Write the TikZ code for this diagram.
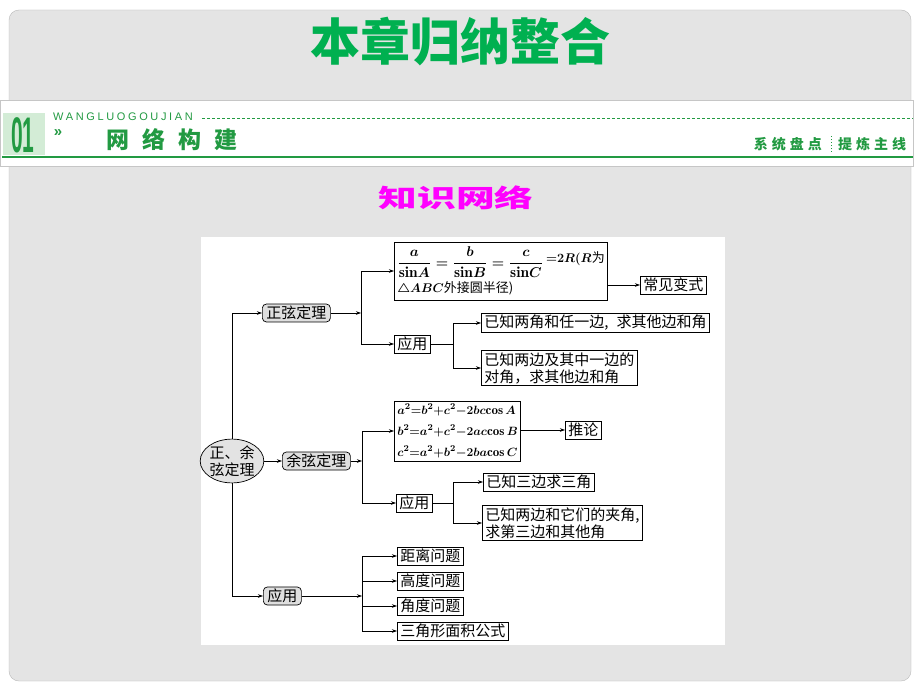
\documentclass[tikz,border=0pt]{standalone}
\usepackage{amsmath}
\usepackage{graphicx}
\usepackage{fontspec}
\usetikzlibrary{arrows.meta,shapes.geometric}
\newfontfamily\cjk{Noto Sans CJK SC}
\newfontfamily\hdlatin[LetterSpace=24]{Liberation Sans}
\newfontfamily\numfont{Liberation Sans}
\definecolor{titlegreen}{RGB}{0,176,80}
\definecolor{hdgreen}{RGB}{34,154,66}
\definecolor{numbg}{RGB}{211,236,214}
\definecolor{slidegray}{RGB}{228,228,228}
\definecolor{knowpink}{RGB}{255,0,255}
\newcommand\bmath[1]{{\boldmath$#1$}}
\tikzset{
  kbox/.style={draw, line width=0.7pt, fill=white, inner xsep=3pt, inner ysep=2pt,
    anchor=west, align=left, font=\cjk\fontsize{15}{17}\selectfont},
  gbox/.style={kbox, fill=gray!25, rounded corners=4pt, inner xsep=4pt},
  link/.style={line width=0.6pt, -{Stealth[length=5pt,width=3.5pt]}},
  plain/.style={line width=0.6pt}
}

\begin{document}
\begin{tikzpicture}[x=1pt,y=-1pt]
        \useasboundingbox (0,0) rectangle (920,690);
        % The slide
        \fill[white] (0,0) rectangle (920,690);
        \draw[gray!55, fill=slidegray, rounded corners=10pt] (9,10) rectangle (911,681);
        \node[font=\cjk\bfseries\fontsize{50}{50}\selectfont, text=titlegreen] (title) at (460,42) {本章归纳整合};

        % The header band
        \draw[gray!45, fill=white] (0,100) rectangle (913,166);
        \fill[numbg] (3,113) rectangle (45,155);
        \node[font=\numfont\bfseries\fontsize{50}{50}\selectfont, text=hdgreen, inner sep=0pt] (num) at (23,135) {\scalebox{0.42}[1]{01}};
        \node[font=\hdlatin\fontsize{11}{11}\selectfont, text=hdgreen, anchor=west, inner sep=0pt] (pinyin) at (53,117) {WANGLUOGOUJIAN};
        \draw[hdgreen, line width=0.9pt, dash pattern=on 2.5pt off 2.5pt] (202,118) -- (913,118);
        \node[font=\numfont\bfseries\fontsize{15}{15}\selectfont, text=hdgreen, inner sep=0pt] (guil) at (58,133) {»};
        \node[font=\cjk\bfseries\fontsize{23}{23}\selectfont, text=hdgreen, inner sep=0pt] (wljg) at (172,140) {网\hspace{13pt}络\hspace{13pt}构\hspace{13pt}建};
        \node[font=\cjk\bfseries\fontsize{14}{14}\selectfont, text=hdgreen, anchor=east, inner sep=0pt] (xtpd) at (822,144) {系\hspace{4pt}统\hspace{4pt}盘\hspace{4pt}点};
        \node[font=\cjk\bfseries\fontsize{14}{14}\selectfont, text=hdgreen, anchor=west, inner sep=0pt] (tlzx) at (838,144) {提\hspace{4pt}炼\hspace{4pt}主\hspace{4pt}线};
        \draw[hdgreen, line width=1pt, dotted] (831,136) -- (831,153);
        \draw[hdgreen, line width=1.8pt] (2,157) -- (913,157);

        \node[font=\cjk\bfseries\fontsize{25}{25}\selectfont, text=knowpink] (zswl) at (456,198) {\scalebox{1.55}[1]{知识网络}};

        % The map
        \fill[white] (201,237) rectangle (725,645);
        \node[ellipse, draw, line width=0.7pt, fill=gray!22, minimum width=60pt, minimum height=42pt,
          inner sep=0pt, align=center, font=\cjk\fontsize{15}{17}\selectfont] (root) at (232,461) {正、余\\弦定理};

        % 正弦定理
        \node[gbox] (zx) at (262,313) {正弦定理};
        \node[kbox, text width=207pt, minimum height=58pt, inner ysep=1pt, font=\cjk\fontsize{13}{16}\selectfont] (zxf) at (394,271)
          {\mbox{\scalebox{1.18}{\bmath{\dfrac{\,a\,}{\sin\!A}=\dfrac{\,b\,}{\sin\!B}=\dfrac{\,c\,}{\sin\!C}}}\hspace{3pt}\raisebox{5pt}{\scalebox{1.05}{\bmath{{=}2R(R}}为}}\\[3pt]\scalebox{1.05}{\bmath{\triangle ABC}}外接圆半径)};
        \node[kbox] (cjbs) at (640,285) {常见变式};
        \node[kbox] (zxyy) at (394,344) {应用};
        \node[kbox] (zxa) at (481,323) {已知两角和任一边,\hspace{8pt}求其他边和角};
        \node[kbox] (zxb) at (481,368) {已知两边及其中一边的\\对角，求其他边和角};

        % 余弦定理
        \node[kbox, inner ysep=3pt, font=\cjk\fontsize{13}{21}\selectfont] (yxf) at (394,431)
          {\bmath{a^2{=}b^2{+}c^2{-}2bc\!\cos A}\\\bmath{b^2{=}a^2{+}c^2{-}2ac\!\cos B}\\\bmath{c^2{=}a^2{+}b^2{-}2ba\!\cos C}};
        \node[gbox] (yx) at (282,461) {余弦定理};
        \node[kbox] (tl) at (565,430) {推论};
        \node[kbox] (yxyy) at (396,503) {应用};
        \node[kbox] (yxa) at (483,482) {已知三边求三角};
        \node[kbox] (yxb) at (482,523) {已知两边和它们的夹角,\\求第三边和其他角};

        % 应用
        \node[gbox] (yy) at (263,596) {应用};
        \node[kbox] (jl) at (397,556) {距离问题};
        \node[kbox] (gd) at (397,581) {高度问题};
        \node[kbox] (jd) at (397,606) {角度问题};
        \node[kbox] (mj) at (397,631) {三角形面积公式};

        % Connectors
        \coordinate (j1) at (361,313);
        \coordinate (j2) at (453,344);
        \coordinate (j3) at (362,461);
        \coordinate (j4) at (453,503);
        \coordinate (j5) at (362,596);
        \draw[link] (root.north) |- (zx.west);
        \draw[link] (root.south) |- (yy.west);
        \draw[link] (root.east) -- (yx.west);
        \draw[link] (zx.east) -- (j1);
        \draw[link] (j1) |- (zxf.west);
        \draw[link] (j1) |- (zxyy.west);
        \draw[link] (zxf.east |- cjbs.west) -- (cjbs.west);
        \draw[plain] (zxyy.east) -- (j2);
        \draw[link] (j2) |- (zxa.west);
        \draw[link] (j2) |- (zxb.west);
        \draw[link] (yx.east) -- (j3);
        \draw[link] (j3) |- (yxf.west);
        \draw[link] (j3) |- (yxyy.west);
        \draw[link] (yxf.east |- tl.west) -- (tl.west);
        \draw[plain] (yxyy.east) -- (j4);
        \draw[link] (j4) |- (yxa.west);
        \draw[link] (j4) |- (yxb.west);
        \draw[link] (yy.east) -- (j5);
        \foreach \k in {jl,gd,jd,mj}
          \draw[link] (j5) |- (\k.west);
\end{tikzpicture}
\end{document}
